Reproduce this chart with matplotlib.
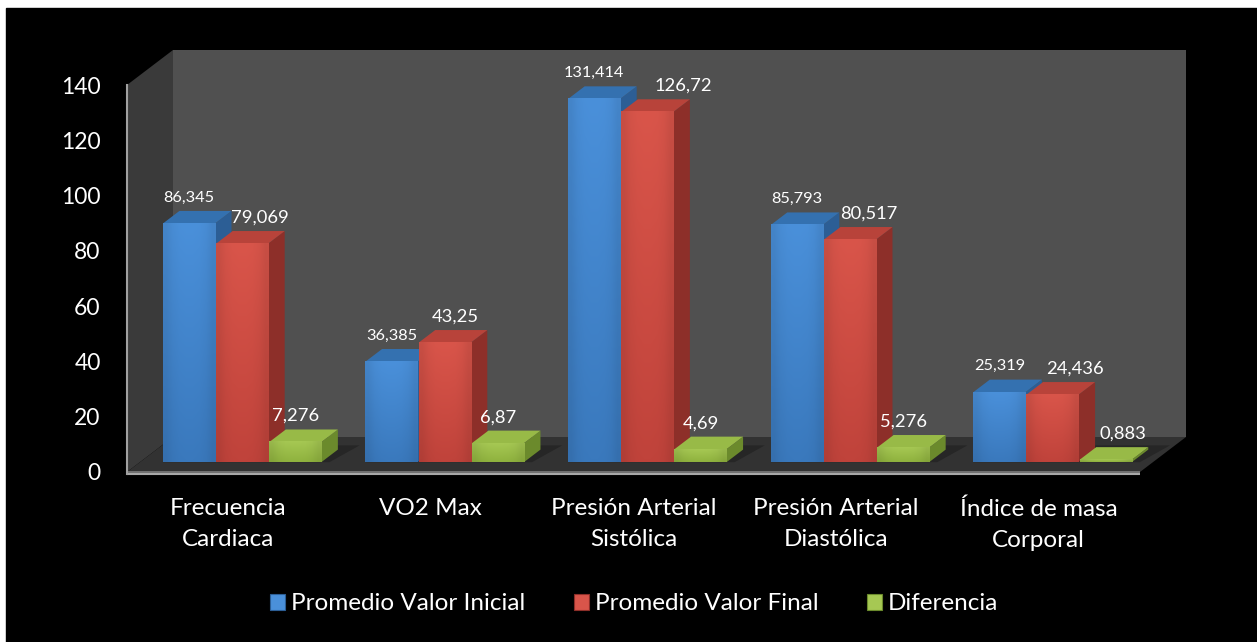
import numpy as np
import matplotlib
matplotlib.use("Agg")
import matplotlib.pyplot as plt
from matplotlib.patches import Polygon, Rectangle, Patch
from matplotlib.colors import to_rgb

# ---------------- data ----------------
categories = ["Frecuencia\nCardiaca", "VO2 Max", "Presión Arterial\nSistólica",
              "Presión Arterial\nDiastólica", "Índice de masa\nCorporal"]
series_names = ["Promedio Valor Inicial", "Promedio Valor Final", "Diferencia"]
valor_inicial = [86.345, 36.385, 131.414, 85.793, 25.319]
valor_final = [79.069, 43.25, 126.72, 80.517, 24.436]
diferencia = [7.276, 6.87, 4.69, 5.276, 0.883]
label_text_inicial = ["86,345", "36,385", "131,414", "85,793", "25,319"]
label_text_final = ["79,069", "43,25", "126,72", "80,517", "24,436"]
label_text_dif = ["7,276", "6,87", "4,69", "5,276", "0,883"]
y_ticks = [0, 20, 40, 60, 80, 100, 120, 140]

series = [valor_inicial, valor_final, diferencia]
labels_txt = [label_text_inicial, label_text_final, label_text_dif]

# ---------------- style ----------------
FONT = ["Lato", "DejaVu Sans"]
plt.rcParams["font.family"] = FONT

W, H = 1257, 642
fig = plt.figure(figsize=(W / 100, H / 100), dpi=100, facecolor="white")
fig.patches.append(Rectangle((6 / W, 0), 1 - 6 / W, (H - 8) / H,
                             transform=fig.transFigure, color="black", zorder=-10))

ax = fig.add_axes([127 / W, (H - 472) / H, 1013 / W, 387 / H])
ax.set_facecolor("none")

NCAT = len(categories)
YMAX = 140
DX = 46 / (1013 / NCAT)   # full depth offset in category units
DY = 35 / (387 / YMAX)    # full depth offset in value units
Z0, Z1 = 0.28, 0.64       # depth span of bars
OFF = 0.1135              # group offset inside category
STEP = 0.2625
BW = 0.257


def P(x, y, z):
    return (x + z * DX, y + z * DY)


def poly(pts, color, z, **kw):
    ax.add_patch(Polygon(pts, closed=True, facecolor=color, edgecolor="none",
                         zorder=z, clip_on=False, **kw))


# walls & floor
poly([P(0, 0, 1), P(NCAT, 0, 1), P(NCAT, YMAX, 1), P(0, YMAX, 1)], "#505050", 1)
poly([P(0, 0, 0), P(0, 0, 1), P(0, YMAX, 1), P(0, YMAX, 0)], "#3a3a3a", 1)
poly([P(0, 0, 0), P(NCAT, 0, 0), P(NCAT, 0, 1), P(0, 0, 1)], "#323232", 2)
# floor front edge strip
poly([P(0, -1.0, 0), P(NCAT, -1.0, 0), P(NCAT, 0.3, 0), P(0, 0.3, 0)], "#707070", 2.5)
ax.plot([0, NCAT], [-0.6, -0.6], color="#a8a8a8", lw=1.5, zorder=2.6, clip_on=False,
        solid_capstyle="butt")
ax.plot([0, 0], [-0.6, YMAX], color="#a0a0a0", lw=1.5, zorder=2.6, clip_on=False)

colors = {
    0: dict(top_f="#4a90da", bot_f="#3a79bd", side="#2c5e95", top="#3471b0"),
    1: dict(top_f="#d9554a", bot_f="#c0433b", side="#8d2f29", top="#b8433a"),
    2: dict(top_f="#a6c853", bot_f="#8fb23e", side="#6b8a2c", top="#98ba47"),
}

# shadows on floor behind groups
for i in range(NCAT):
    x0 = i + OFF
    x1 = i + OFF + 2 * STEP + BW
    poly([P(x0, 0, Z0), P(x1 + 0.04, 0, Z0),
          P(x1 + 0.08, 0, Z1 + 0.12), P(x0 + 0.03, 0, Z1 + 0.12)], "#262626", 3)

# bars
for i in range(NCAT):
    for j in range(3):
        v = series[j][i]
        c = colors[j]
        xl = i + OFF + j * STEP
        xr = xl + BW
        zb = 4 + i * 3 + j * 0.3
        # side face
        poly([P(xr, 0, Z0), P(xr, 0, Z1), P(xr, v, Z1), P(xr, v, Z0)], c["side"], zb)
        # top face
        poly([P(xl, v, Z0), P(xr, v, Z0), P(xr, v, Z1), P(xl, v, Z1)], c["top"], zb)
        # front face with gradient
        fx0, fy0 = P(xl, 0, Z0)
        fx1, fy1 = P(xr, v, Z0)
        t = np.linspace(0, 1, 64)[:, None]
        ca, cb = np.array(to_rgb(c["bot_f"])), np.array(to_rgb(c["top_f"]))
        grad = (ca[None, :] * (1 - t) + cb[None, :] * t)[:, None, :]
        grad = np.repeat(grad, 8, axis=1)
        shade = 1 - 0.08 * (np.abs(np.linspace(-1, 1, 8)) ** 3)
        grad = grad * shade[None, :, None]
        ax.imshow(grad, extent=[fx0, fx1, fy0, fy1], origin="lower",
                  aspect="auto", interpolation="bilinear", zorder=zb + 0.1,
                  clip_on=False)

# data labels
label_dx_px = [[0, 0, 0, 0, 0], [18, 11, 36, 19, 22], [0, 0, 0, 0, 17]]
label_size = [11.8, 13.2, 13.2]
for j in range(3):
    for i in range(NCAT):
        v = series[j][i]
        xl = i + OFF + j * STEP
        cx, cy = P(xl + BW / 2, v, Z0)
        ax.annotate(labels_txt[j][i], (cx, cy),
                    xytext=(label_dx_px[j][i] * 0.72, 26 * 0.72),
                    textcoords="offset points", ha="center", va="center",
                    color="white", fontsize=label_size[j], zorder=50,
                    annotation_clip=False)

ax.set_xlim(0, NCAT)
ax.set_ylim(0, YMAX)
for s in ax.spines.values():
    s.set_visible(False)
ax.set_yticks(y_ticks)
ax.set_yticklabels([str(t) for t in y_ticks])
ax.tick_params(axis="y", length=0, pad=19, labelsize=16.5, labelcolor="white")
ax.set_xticks([i + 0.5 for i in range(NCAT)])
ax.set_xticklabels(categories, linespacing=1.58)
ax.tick_params(axis="x", length=0, pad=19, labelsize=17.5, labelcolor="white")

handles = [Patch(facecolor=colors[j]["top_f"], edgecolor=colors[j]["side"], lw=0.8)
           for j in range(3)]
leg = fig.legend(handles, series_names, loc="center",
                 bbox_to_anchor=(634 / W, (H - 604) / H), ncol=3, frameon=False,
                 fontsize=17.5, labelcolor="white", handlelength=0.62,
                 handleheight=0.62, handletextpad=0.25, columnspacing=2.0)

fig.savefig("out.png", dpi=100, facecolor="white")
